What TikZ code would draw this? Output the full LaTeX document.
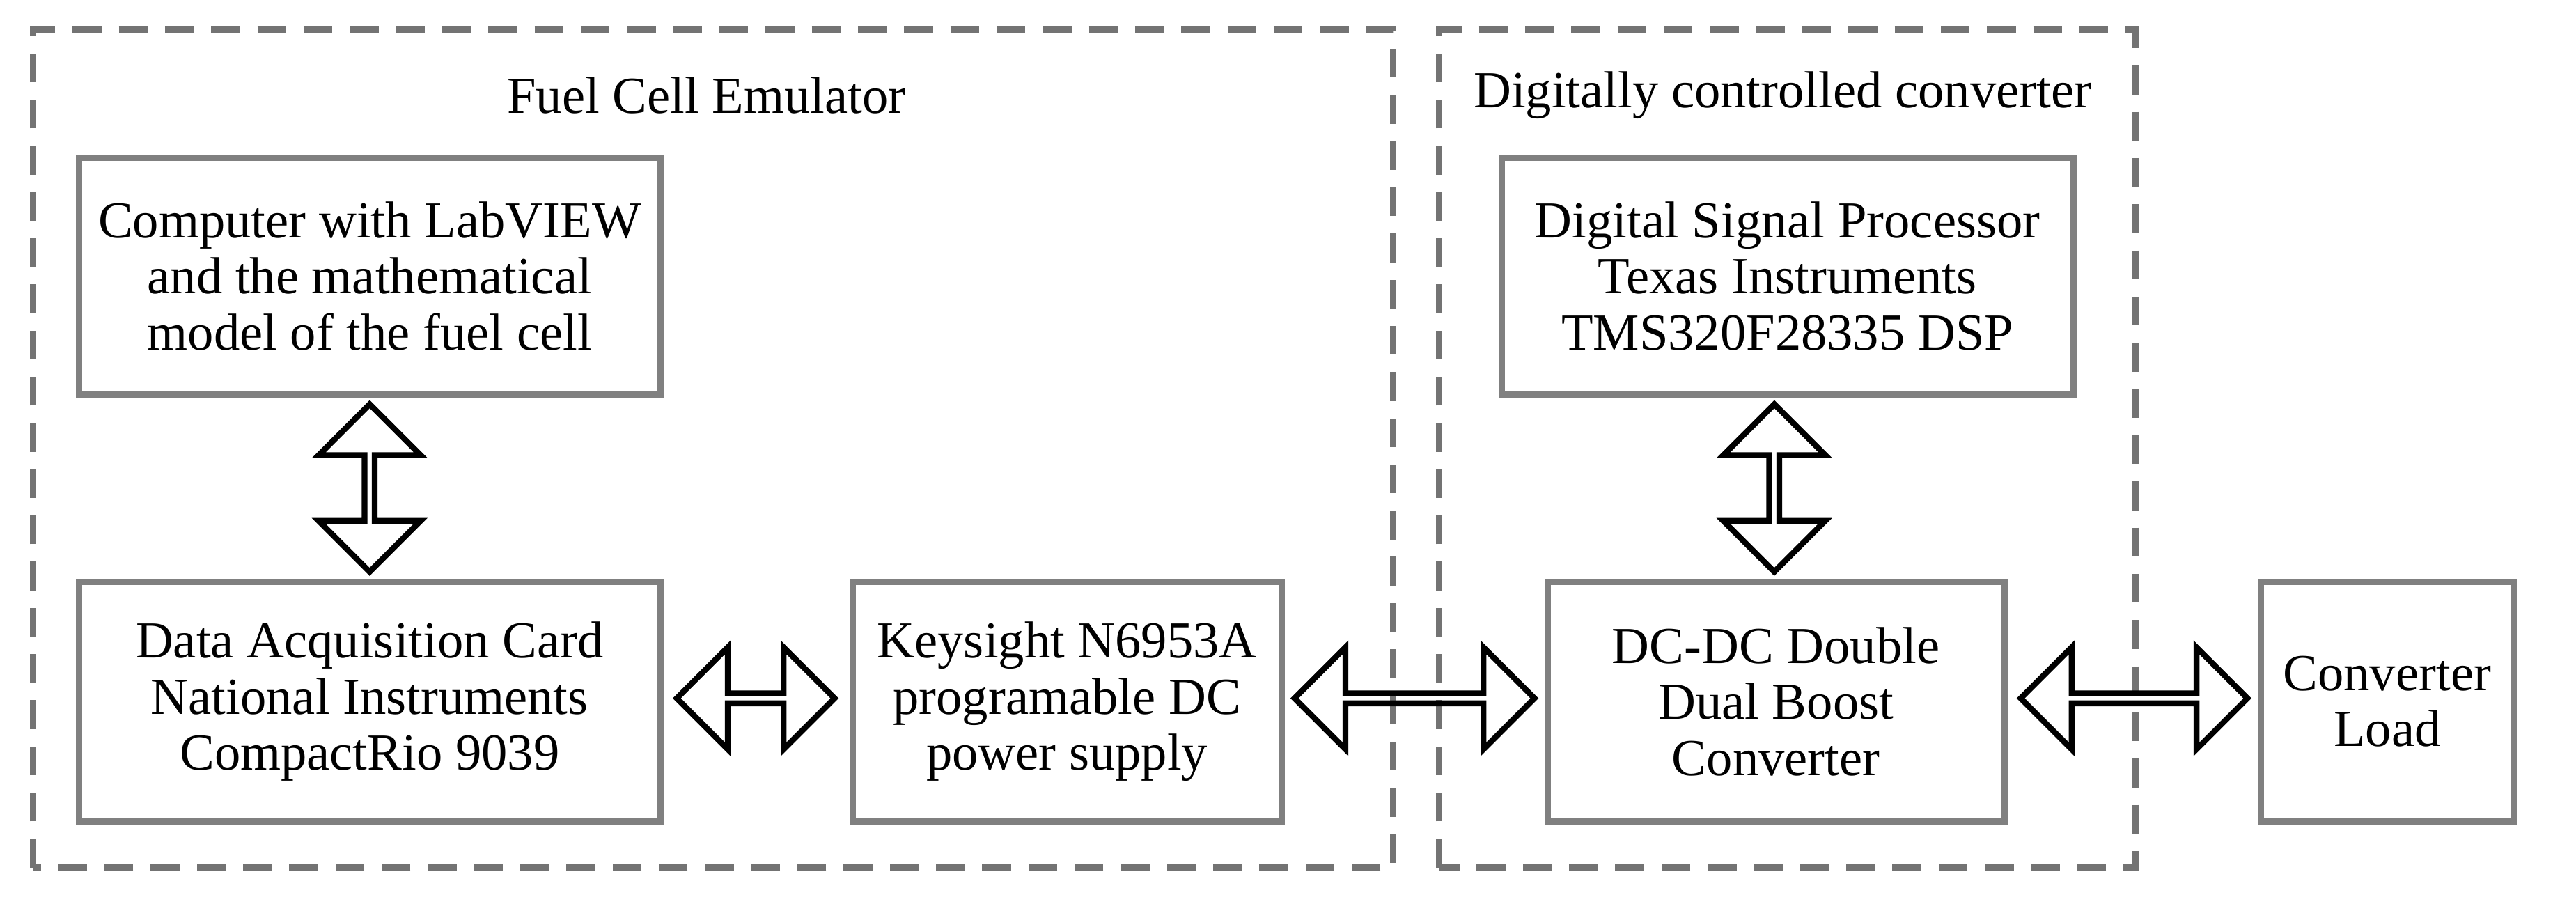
\documentclass[tikz,border=0pt]{standalone}
\usepackage{fontspec}
\setmainfont{Liberation Serif}
\usetikzlibrary{shapes.arrows,positioning}
\tikzset{
  blk/.style={draw=black!50, line width=1.1pt, align=center, inner sep=0pt,
    font=\fontsize{9}{9.7}\selectfont},
  grp/.style={draw=black!55, line width=1.1pt, dash pattern=on 5pt off 3pt},
  darr/.style={double arrow, draw=black, line width=1pt, inner sep=0pt,
    minimum width=0.62cm, double arrow head extend=0.16cm},
  ttl/.style={font=\fontsize{9}{11}\selectfont}
}
\begin{document}
\begin{tikzpicture}
\useasboundingbox (0,0) rectangle (15.68,5.5);

% groups
\draw[grp] (0.20,0.22) rectangle (8.48,5.32);
\draw[grp] (8.76,0.22) rectangle (13.00,5.32);
\node[ttl] (emu) at (4.30,4.92) {Fuel Cell Emulator};
\node[ttl] (dcc) at (10.85,4.92) {Digitally controlled converter};

% blocks
\node[blk, minimum width=3.54cm, minimum height=1.44cm] (pc) at (2.25,3.82)
  {Computer with LabVIEW\\and the mathematical\\model of the fuel cell};
\node[blk, minimum width=3.48cm, minimum height=1.44cm] (dsp) at (10.88,3.82)
  {Digital Signal Processor\\Texas Instruments\\TMS320F28335 DSP};
\node[blk, minimum width=3.54cm, minimum height=1.46cm] (daq) at (2.25,1.23)
  {Data Acquisition Card\\National Instruments\\CompactRio 9039};
\node[blk, minimum width=2.61cm, minimum height=1.46cm] (psu) at (6.495,1.23)
  {Keysight N6953A\\programable DC\\power supply};
\node[blk, minimum width=2.78cm, minimum height=1.46cm] (conv) at (10.81,1.23)
  {DC-DC Double\\Dual Boost\\Converter};
\node[blk, minimum width=1.54cm, minimum height=1.46cm] (load) at (14.53,1.23)
  {Converter\\Load};

% links
\node[darr, rotate=90, minimum height=1.02cm] (a1) at (2.25,2.53) {};
\node[darr, rotate=90, minimum height=1.02cm] (a2) at (10.80,2.53) {};
\node[darr, minimum height=0.96cm] (a3) at (4.60,1.25) {};
\node[darr, minimum height=1.46cm] (a4) at (8.61,1.25) {};
\node[darr, minimum height=1.38cm] (a5) at (12.99,1.25) {};
\end{tikzpicture}
\end{document}
